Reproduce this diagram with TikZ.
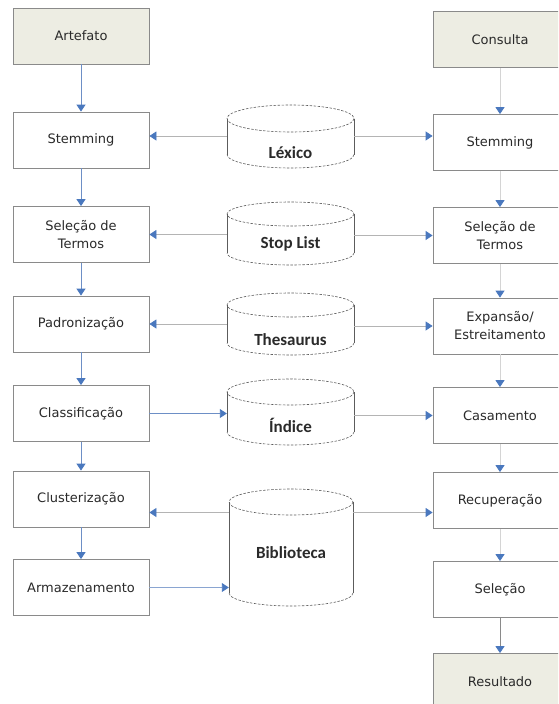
\documentclass[tikz,border=0pt]{standalone}
\usepackage{fontspec}
\setmainfont{DejaVu Sans}
\newfontfamily\cylfont{Carlito}
\usetikzlibrary{arrows.meta}

\definecolor{boxline}{HTML}{8A8A8A}
\definecolor{termfill}{HTML}{EDEDE3}
\definecolor{txt}{HTML}{2A2A2A}
\definecolor{tipblue}{HTML}{4A78BE}
\definecolor{flowblue}{HTML}{6D8FC6}
\definecolor{feedgray}{HTML}{B4B4B4}
\definecolor{qgray}{HTML}{D4D4D4}
\definecolor{cylgray}{HTML}{5C5C5C}

% cylinder: #1 name, #2 centre x, #3 x radius, #4 top rim y, #5 bottom rim y, #6 y radius
\newcommand\storecyl[6]{%
  \draw[cylside] ({#2-#3},#4) -- ({#2-#3},#5) ({#2+#3},#4) -- ({#2+#3},#5);
  \draw[cylrim] (#2,#4) ellipse [x radius=#3, y radius=#6];
  \draw[cylrim] ({#2+#3},#5) arc [start angle=0, end angle=180, x radius=#3, y radius=#6];
  \node[cylbody, minimum width={2*#3}, minimum height={#5-#4}] (#1) at (#2,{(#4+#5)/2}) {};
}

\begin{document}
\begin{tikzpicture}[x=1pt,y=-1pt,
  box/.style={draw=boxline, line width=0.8pt, fill=white, minimum width=136pt,
    minimum height=56pt, inner sep=0pt, align=center, text=txt,
    font=\fontsize{13}{18}\selectfont},
  term/.style={box, fill=termfill},
  rbox/.style={box, minimum width=134pt},
  rterm/.style={term, minimum width=134pt},
  cylside/.style={draw=cylgray, line width=0.6pt},
  cylrim/.style={draw=cylgray, line width=0.6pt, dash pattern=on 2.5pt off 1.5pt},
  cylbody/.style={draw=none, inner sep=0pt},
  cyllabel/.style={text=txt, font=\cylfont\bfseries\fontsize{17}{20}\selectfont},
  tip/.style={-{Triangle[length=7pt, width=9pt, color=tipblue]}},
  flow/.style={tip, draw=flowblue, line width=0.9pt},
  qflow/.style={tip, draw=qgray, line width=0.8pt},
  feed/.style={tip, draw=feedgray, line width=0.8pt},
]
\useasboundingbox (0,0) rectangle (558,704);
\clip (0,0) rectangle (558,704);

% indexing pipeline (left)
\node[term] (art)  at (81,36)    {Artefato};
\node[box]  (stemL) at (81,140)  {Stemming};
\node[box]  (selL) at (81,234.5) {Seleção de\\Termos};
\node[box]  (padL) at (81,324)   {Padronização};
\node[box]  (clsL) at (81,413.5) {Classificação};
\node[box]  (cluL) at (81,499)   {Clusterização};
\node[box]  (armL) at (81,587.5) {Armazenamento};

% query pipeline (right)
\node[rterm] (cons) at (500,39.5)  {Consulta};
\node[rbox] (stemR) at (500,142.5) {Stemming};
\node[rbox] (selR)  at (500,235.5) {Seleção de\\Termos};
\node[rbox] (expR)  at (500,326)   {Expansão/\\Estreitamento};
\node[rbox] (casR)  at (500,415.5) {Casamento};
\node[rbox] (recR)  at (500,500.5) {Recuperação};
\node[rbox] (slcR)  at (500,589.5) {Seleção};
\node[rterm] (res)  at (500,681.5) {Resultado};

% shared stores (centre)
\storecyl{lex}{290.5}{63.5}{118.5}{154.5}{13.5}
\storecyl{stop}{290.5}{63.5}{214}{253}{12}
\storecyl{thes}{290.5}{63.5}{305}{343}{12}
\storecyl{idx}{290.5}{63.5}{392}{432}{13}
\storecyl{bib}{291}{62}{502}{593}{13}

\node[cyllabel] (lexlabel)  at (290.5,153) {Léxico};
\node[cyllabel] (stoplabel) at (290.5,244) {Stop List};
\node[cyllabel] (theslabel) at (290.5,340) {Thesaurus};
\node[cyllabel] (idxlabel)  at (290.5,425) {Índice};
\node[cyllabel] (biblabel)  at (291,553)   {Biblioteca};

% vertical flow, left
\draw[flow] (art) -- (stemL);
\draw[flow] (stemL) -- (selL);
\draw[flow] (selL) -- (padL);
\draw[flow] (padL) -- (clsL);
\draw[flow] (clsL) -- (cluL);
\draw[flow] (cluL) -- (armL);

% vertical flow, right
\draw[qflow] (cons) -- (stemR);
\draw[qflow] (stemR) -- (selR);
\draw[qflow] (selR) -- (expR);
\draw[qflow] (expR) -- (casR);
\draw[qflow] (casR) -- (recR);
\draw[qflow] (recR) -- (slcR);
\draw[qflow, draw=boxline] (slcR) -- (res);

% stores feeding both pipelines
\coordinate (hLex) at (0,136);
\coordinate (hBib) at (0,512.5);
\draw[feed] (lex.west |- hLex) -- (stemL.east |- hLex);
\draw[feed] (lex.east |- hLex) -- (stemR.west |- hLex);
\draw[feed] (stop.west |- selL.east) -- (selL.east);
\draw[feed] (stop.east |- selR.west) -- (selR.west);
\draw[feed] (thes.west |- padL.east) -- (padL.east);
\draw[feed] (thes.east |- expR.west) -- (expR.west);
\draw[flow] (clsL.east) -- (idx.west |- clsL.east);
\draw[feed] (idx.east |- casR.west) -- (casR.west);
\draw[feed] (bib.west |- hBib) -- (cluL.east |- hBib);
\draw[feed] (bib.east |- hBib) -- (recR.west |- hBib);
\draw[flow, draw=flowblue!80!white] (armL.east) -- (bib.west |- armL.east);
\end{tikzpicture}
\end{document}
